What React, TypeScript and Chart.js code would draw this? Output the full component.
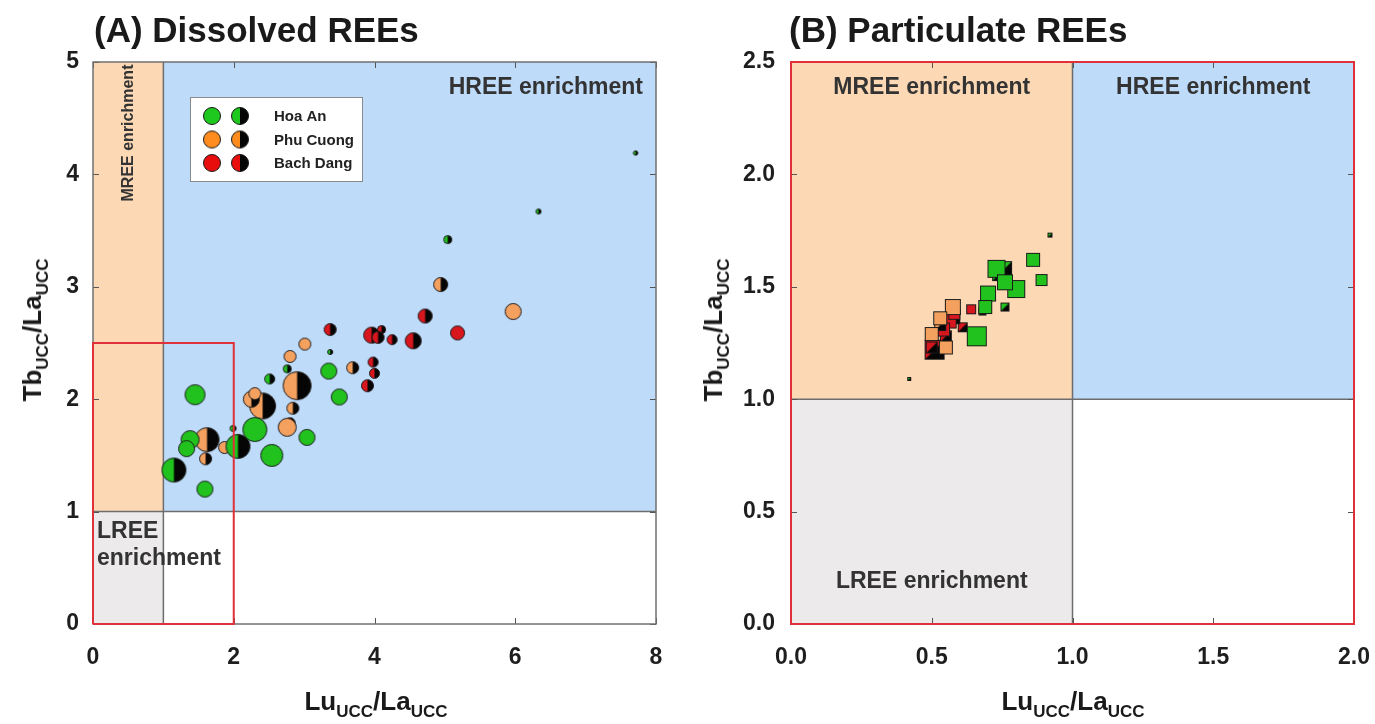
import React, { useEffect, useRef } from 'react';
import { Chart, registerables } from 'chart.js';

Chart.register(...registerables);

const FONT = '"Liberation Sans", Arial, Helvetica, sans-serif';

// ---------- Data: [x (Lu/La), y (Tb/La), marker size] ----------
// (A) Dissolved REEs — circles; "Half" = half coloured / half black markers
const dissHoaAnFull: number[][] = [
  [1.45, 2.04, 10], [1.38, 1.64, 9], [1.33, 1.56, 8], [1.59, 1.2, 8], [2.3, 1.73, 12],
  [2.54, 1.5, 11], [3.04, 1.66, 8], [3.35, 2.25, 8], [3.5, 2.02, 8],
];
const dissHoaAnHalf: number[][] = [
  [1.15, 1.37, 12], [2.06, 1.58, 12], [5.04, 3.42, 4], [2.51, 2.18, 5], [2.76, 2.27, 4],
  [6.33, 3.67, 2.5], [7.71, 4.19, 2.2], [3.37, 2.42, 2.5], [1.99, 1.74, 3],
];
const dissPhuCuongFull: number[][] = [
  [5.97, 2.78, 8], [3.01, 2.49, 6], [2.8, 2.38, 6], [2.3, 2.05, 6], [2.76, 1.75, 9], [1.87, 1.57, 6],
];
const dissPhuCuongHalf: number[][] = [
  [2.9, 2.12, 14], [2.41, 1.94, 13], [1.62, 1.64, 12], [1.6, 1.47, 6], [3.69, 2.28, 6],
  [4.94, 3.02, 7], [2.84, 1.92, 6], [2.25, 2.0, 8],
];
const dissBachDangFull: number[][] = [[5.18, 2.59, 7]];
const dissBachDangHalf: number[][] = [
  [4.72, 2.74, 7], [4.55, 2.52, 8], [3.96, 2.57, 8], [4.25, 2.53, 5], [4.1, 2.62, 4],
  [3.37, 2.62, 6], [3.98, 2.33, 5], [4.0, 2.23, 5], [3.9, 2.12, 6], [2.8, 1.79, 5], [4.05, 2.55, 6],
];

// (B) Particulate REEs — squares; "Half" = diagonal coloured / black markers
const partHoaAnFull: number[][] = [
  [0.86, 1.62, 14], [0.89, 1.53, 12], [0.8, 1.49, 18], [0.7, 1.47, 16], [0.66, 1.28, 20],
  [0.73, 1.58, 18], [0.69, 1.41, 14], [0.76, 1.52, 16],
];
const partHoaAnHalf: number[][] = [
  [0.75, 1.57, 20], [0.76, 1.41, 9], [0.92, 1.73, 5], [0.42, 1.09, 4], [0.68, 1.39, 8],
];
const partPhuCuongFull: number[][] = [[0.575, 1.41, 16], [0.5, 1.29, 14], [0.55, 1.23, 14], [0.53, 1.36, 14]];
const partPhuCuongHalf: number[][] = [[0.53, 1.33, 12]];
const partBachDangFull: number[][] = [[0.56, 1.35, 16], [0.54, 1.31, 14], [0.64, 1.4, 10], [0.58, 1.38, 12]];
const partBachDangHalf: number[][] = [[0.51, 1.22, 20], [0.61, 1.32, 10], [0.58, 1.36, 12], [0.5, 1.23, 12], [0.55, 1.28, 12]];

const siteNames = ['Hoa An', 'Phu Cuong', 'Bach Dang'];
const siteColors = ['#22C21E', '#F4A05E', '#D8161E'];
const legendColors = ['#1EC81E', '#FF8C1E', '#E80E0E'];

const dissTicksX = [0, 2, 4, 6, 8];
const dissTicksY = [0, 1, 2, 3, 4, 5];
const partTicksX = [0, 0.5, 1, 1.5, 2];
const partTicksY = [0, 0.5, 1, 1.5, 2, 2.5];

const C_PEACH = '#FCD9B4';
const C_BLUE = '#BEDBFA';
const C_GRAY = '#ECEAEA';
const C_RED = '#E0313A';

// ---------- marker images ----------
function circleMarker(r: number, color: string, half: boolean): HTMLCanvasElement {
  const s = Math.ceil(2 * r + 3);
  const cv = document.createElement('canvas');
  cv.width = s; cv.height = s;
  const g = cv.getContext('2d')!;
  const c = s / 2;
  g.beginPath(); g.arc(c, c, r, 0, Math.PI * 2); g.fillStyle = color; g.fill();
  if (half) {
    g.beginPath(); g.moveTo(c, c); g.arc(c, c, r, -Math.PI / 2, Math.PI / 2); g.closePath();
    g.fillStyle = '#050505'; g.fill();
  }
  g.beginPath(); g.arc(c, c, r, 0, Math.PI * 2);
  g.lineWidth = 1; g.strokeStyle = '#1a1a1a'; g.stroke();
  return cv;
}

function squareMarker(d: number, color: string, half: boolean): HTMLCanvasElement {
  const s = Math.ceil(d + 2);
  const cv = document.createElement('canvas');
  cv.width = s; cv.height = s;
  const g = cv.getContext('2d')!;
  const o = (s - d) / 2;
  g.fillStyle = color; g.fillRect(o, o, d, d);
  if (half) {
    g.beginPath(); g.moveTo(o + d, o); g.lineTo(o + d, o + d); g.lineTo(o, o + d); g.closePath();
    g.fillStyle = '#050505'; g.fill();
  }
  g.lineWidth = 1; g.strokeStyle = '#1a1a1a'; g.strokeRect(o + 0.5, o + 0.5, d - 1, d - 1);
  return cv;
}

function makeDataset(label: string, rows: number[][], color: string, half: boolean, shape: 'circle' | 'square') {
  const imgs = rows.map((p) => (shape === 'circle' ? circleMarker(p[2], color, half) : squareMarker(p[2], color, half)));
  return {
    label,
    data: rows.map((p) => ({ x: p[0], y: p[1] })),
    pointStyle: imgs,
    pointRadius: rows.map((p) => (shape === 'circle' ? p[2] : p[2] / 2)),
    backgroundColor: color,
    borderColor: '#111',
  };
}

// ---------- plugins ----------
function regionPlugin(kind: 'diss' | 'part') {
  return {
    id: 'regions-' + kind,
    beforeDatasetsDraw(chart: any) {
      const { ctx, chartArea: a, scales } = chart;
      const sx = scales.x, sy = scales.y;
      const x1 = sx.getPixelForValue(1), y1 = sy.getPixelForValue(1);
      ctx.save();
      ctx.fillStyle = '#FFFFFF'; ctx.fillRect(a.left, a.top, a.right - a.left, a.bottom - a.top);
      ctx.fillStyle = C_PEACH; ctx.fillRect(a.left, a.top, x1 - a.left, y1 - a.top);
      ctx.fillStyle = C_BLUE; ctx.fillRect(x1, a.top, a.right - x1, y1 - a.top);
      ctx.fillStyle = C_GRAY; ctx.fillRect(a.left, y1, x1 - a.left, a.bottom - y1);
      // dividers
      ctx.strokeStyle = '#6d6d6d'; ctx.lineWidth = 1.5;
      ctx.beginPath();
      ctx.moveTo(x1, a.top); ctx.lineTo(x1, a.bottom);
      ctx.moveTo(a.left, y1); ctx.lineTo(a.right, y1);
      ctx.stroke();
      // labels
      ctx.fillStyle = '#333';
      ctx.font = `bold 23px ${FONT}`;
      ctx.textBaseline = 'middle';
      if (kind === 'diss') {
        ctx.textAlign = 'right';
        ctx.fillText('HREE enrichment', a.right - 13, a.top + 26);
        ctx.save();
        ctx.font = `bold 16px ${FONT}`;
        ctx.textAlign = 'center';
        ctx.translate((a.left + x1) / 2, a.top + 71);
        ctx.rotate(-Math.PI / 2);
        ctx.fillText('MREE enrichment', 0, 0);
        ctx.restore();
        ctx.textAlign = 'left';
        ctx.fillText('LREE', a.left + 4, a.bottom - 92);
        ctx.fillText('enrichment', a.left + 4, a.bottom - 65);
      } else {
        ctx.textAlign = 'center';
        ctx.fillText('MREE enrichment', (a.left + x1) / 2, a.top + 26);
        ctx.fillText('HREE enrichment', (x1 + a.right) / 2, a.top + 26);
        ctx.fillText('LREE enrichment', (a.left + x1) / 2, a.bottom - 42);
      }
      ctx.restore();
    },
    afterDatasetsDraw(chart: any) {
      const { ctx, chartArea: a, scales } = chart;
      const sx = scales.x, sy = scales.y;
      const tx = kind === 'diss' ? dissTicksX : partTicksX;
      const ty = kind === 'diss' ? dissTicksY : partTicksY;
      ctx.save();
      ctx.strokeStyle = '#555'; ctx.lineWidth = 1;
      ctx.beginPath();
      tx.forEach((v) => {
        const px = Math.round(sx.getPixelForValue(v)) + 0.5;
        ctx.moveTo(px, a.bottom); ctx.lineTo(px, a.bottom - 6);
        ctx.moveTo(px, a.top); ctx.lineTo(px, a.top + 6);
      });
      ty.forEach((v) => {
        const py = Math.round(sy.getPixelForValue(v)) + 0.5;
        ctx.moveTo(a.left, py); ctx.lineTo(a.left + 6, py);
        ctx.moveTo(a.right, py); ctx.lineTo(a.right - 6, py);
      });
      ctx.stroke();
      // frame
      ctx.strokeStyle = kind === 'diss' ? '#707070' : C_RED;
      ctx.lineWidth = kind === 'diss' ? 1.5 : 2;
      ctx.strokeRect(a.left, a.top, a.right - a.left, a.bottom - a.top);
      if (kind === 'diss') {
        const rx = sx.getPixelForValue(2), ry = sy.getPixelForValue(2.5);
        ctx.strokeStyle = C_RED; ctx.lineWidth = 2;
        ctx.beginPath();
        ctx.moveTo(a.left, a.bottom); ctx.lineTo(a.left, ry); ctx.lineTo(rx, ry); ctx.lineTo(rx, a.bottom); ctx.lineTo(a.left, a.bottom);
        ctx.stroke();
        // legend
        const bx = a.left + 97, by = a.top + 35, bw = 172, bh = 84;
        ctx.fillStyle = '#fff'; ctx.fillRect(bx, by, bw, bh);
        ctx.strokeStyle = '#8a8a8a'; ctx.lineWidth = 1; ctx.strokeRect(bx + 0.5, by + 0.5, bw, bh);
        siteNames.forEach((name, i) => {
          const cy = by + 19 + i * 23.5;
          const m1 = circleMarker(8.5, legendColors[i], false);
          const m2 = circleMarker(8.5, legendColors[i], true);
          ctx.drawImage(m1, bx + 22 - m1.width / 2, cy - m1.height / 2);
          ctx.drawImage(m2, bx + 50 - m2.width / 2, cy - m2.height / 2);
          ctx.fillStyle = '#222'; ctx.font = `bold 15px ${FONT}`;
          ctx.textAlign = 'left'; ctx.textBaseline = 'middle';
          ctx.fillText(name, bx + 84, cy + 1);
        });
      }
      ctx.restore();
    },
  };
}

function scaleOpts(min: number, max: number, step: number, ticksArr: number[], pad: number, fixed: number, isX: boolean, decimals: number) {
  return {
    type: 'linear',
    min, max,
    afterBuildTicks: (s: any) => { s.ticks = ticksArr.map((v) => ({ value: v })); },
    afterFit: (s: any) => {
      if (isX) { s.height = fixed; s.paddingLeft = 0; s.paddingRight = 0; }
      else { s.width = fixed; s.paddingTop = 0; s.paddingBottom = 0; }
    },
    grid: { display: false, drawTicks: false },
    border: { display: false },
    ticks: {
      stepSize: step,
      padding: pad,
      color: '#1e1e1e',
      font: { family: FONT, size: 23, weight: 'bold' },
      callback: (v: any) => Number(v).toFixed(decimals),
      maxRotation: 0,
      autoSkip: false,
    },
  };
}

function Panel(props: { kind: 'diss' | 'part'; width: number; left: number }) {
  const ref = useRef<HTMLCanvasElement>(null);
  useEffect(() => {
    const isD = props.kind === 'diss';
    const shape = isD ? 'circle' : 'square';
    const datasets = isD
      ? [
          makeDataset('Hoa An', dissHoaAnFull, siteColors[0], false, shape),
          makeDataset('Hoa An (half)', dissHoaAnHalf, siteColors[0], true, shape),
          makeDataset('Phu Cuong', dissPhuCuongFull, siteColors[1], false, shape),
          makeDataset('Phu Cuong (half)', dissPhuCuongHalf, siteColors[1], true, shape),
          makeDataset('Bach Dang', dissBachDangFull, siteColors[2], false, shape),
          makeDataset('Bach Dang (half)', dissBachDangHalf, siteColors[2], true, shape),
        ]
      : [
          makeDataset('Hoa An', partHoaAnFull, siteColors[0], false, shape),
          makeDataset('Hoa An (half)', partHoaAnHalf, siteColors[0], true, shape),
          makeDataset('Phu Cuong', partPhuCuongFull, siteColors[1], false, shape),
          makeDataset('Phu Cuong (half)', partPhuCuongHalf, siteColors[1], true, shape),
          makeDataset('Bach Dang', partBachDangFull, siteColors[2], false, shape),
          makeDataset('Bach Dang (half)', partBachDangHalf, siteColors[2], true, shape),
        ];
    const chart = new Chart(ref.current!, {
      type: 'scatter',
      data: { datasets } as any,
      options: {
        responsive: false,
        animation: false,
        devicePixelRatio: 1,
        layout: { padding: { top: 62, right: isD ? 34 : 21, left: 0, bottom: 0 } },
        plugins: { legend: { display: false }, tooltip: { enabled: false } },
        scales: {
          x: scaleOpts(0, isD ? 8 : 2, isD ? 2 : 0.5, isD ? dissTicksX : partTicksX, 20, 100, true, isD ? 0 : 1),
          y: scaleOpts(0, isD ? 5 : 2.5, isD ? 1 : 0.5, isD ? dissTicksY : partTicksY, isD ? 14 : 16, isD ? 93 : 101, false, isD ? 0 : 1),
        },
      } as any,
      plugins: [regionPlugin(props.kind)],
    });
    return () => chart.destroy();
  }, [props.kind]);
  return (
    <canvas
      ref={ref}
      width={props.width}
      height={724}
      style={{ position: 'absolute', left: props.left, top: 0, width: props.width, height: 724 }}
    />
  );
}

const titleStyle: React.CSSProperties = {
  position: 'absolute',
  fontFamily: FONT,
  fontWeight: 'bold',
  fontSize: 35,
  color: '#1a1a1a',
  whiteSpace: 'nowrap',
  lineHeight: '36px',
};

const axisStyle: React.CSSProperties = {
  position: 'absolute',
  fontFamily: FONT,
  fontWeight: 'bold',
  fontSize: 26,
  color: '#1a1a1a',
  whiteSpace: 'nowrap',
  lineHeight: '30px',
};

const subStyle: React.CSSProperties = { fontSize: 17, verticalAlign: -7, lineHeight: 0 };

function AxisText(props: { a: string; b: string }) {
  return (
    <span>
      {props.a}
      <span style={subStyle}>UCC</span>/{props.b}
      <span style={subStyle}>UCC</span>
    </span>
  );
}

export default function App() {
  return (
    <div style={{ position: 'fixed', left: 0, top: 0, width: 1375, height: 724, background: '#fff', overflow: 'hidden' }}>
      <Panel kind="diss" width={690} left={0} />
      <Panel kind="part" width={685} left={690} />
      <div style={{ ...titleStyle, left: 94, top: 12 }}>(A) Dissolved REEs</div>
      <div style={{ ...titleStyle, left: 789, top: 12 }}>(B) Particulate REEs</div>
      <div style={{ ...axisStyle, left: 376, top: 686, transform: 'translateX(-50%)' }}>
        <AxisText a="Lu" b="La" />
      </div>
      <div style={{ ...axisStyle, left: 1073, top: 686, transform: 'translateX(-50%)' }}>
        <AxisText a="Lu" b="La" />
      </div>
      <div style={{ ...axisStyle, left: 32, top: 330, transform: 'translate(-50%, -50%) rotate(-90deg)' }}>
        <AxisText a="Tb" b="La" />
      </div>
      <div style={{ ...axisStyle, left: 713, top: 330, transform: 'translate(-50%, -50%) rotate(-90deg)' }}>
        <AxisText a="Tb" b="La" />
      </div>
    </div>
  );
}
